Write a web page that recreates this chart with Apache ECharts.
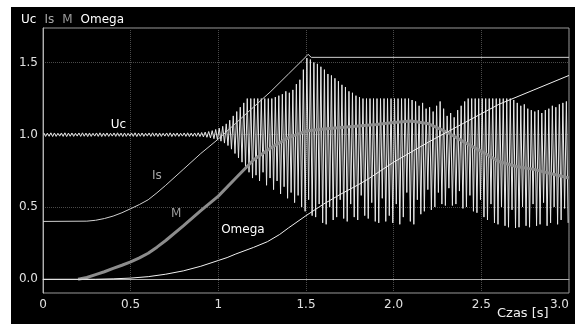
<!DOCTYPE html>
<html>
<head>
<meta charset="utf-8">
<script src="https://cdn.jsdelivr.net/npm/echarts@6/dist/echarts.min.js"></script>
<style>
  html, body { margin: 0; padding: 0; background: #fff; }
  .chart-panel { position: absolute; left: 11px; top: 7px; width: 564px; height: 317px; background: #000; }
</style>
</head>
<body>
<div id="chart" class="chart-panel"></div>
<script>
// Uc: one high and one low per 20 ms cycle
const UC_T0 = 0.005;
const UC_PERIOD = 0.02;
const ucHigh = [
  1.012, 1.011, 1.013, 1.012, 1.010, 1.012, 1.013, 1.011, 1.012, 1.010,
  1.012, 1.013, 1.011, 1.012, 1.010, 1.012, 1.013, 1.011, 1.012, 1.010,
  1.012, 1.013, 1.011, 1.012, 1.010, 1.012, 1.013, 1.011, 1.012, 1.010,
  1.012, 1.013, 1.011, 1.012, 1.010, 1.012, 1.013, 1.011, 1.012, 1.010,
  1.012, 1.013, 1.011, 1.012, 1.013,
  1.015, 1.018, 1.022, 1.028, 1.036, 1.045, 1.058, 1.075, 1.10, 1.13,
  1.16, 1.19, 1.22, 1.25, 1.25, 1.25, 1.25, 1.25, 1.25, 1.25,
  1.25, 1.26, 1.27, 1.28, 1.30,
  1.29, 1.31, 1.35, 1.38, 1.45, 1.53, 1.52, 1.50, 1.49, 1.47,
  1.45, 1.42, 1.41, 1.39, 1.37, 1.345, 1.33, 1.30, 1.29, 1.27,
  1.26, 1.25, 1.25, 1.25, 1.25, 1.25, 1.25, 1.25, 1.25, 1.25,
  1.25, 1.25, 1.25, 1.25, 1.25, 1.24, 1.23, 1.20, 1.22, 1.18,
  1.19, 1.16, 1.20, 1.23, 1.18, 1.13, 1.15, 1.12, 1.17, 1.20,
  1.23, 1.25, 1.25, 1.25, 1.25, 1.25, 1.25, 1.25, 1.25, 1.25,
  1.25, 1.25, 1.25, 1.25, 1.24, 1.22, 1.20, 1.21, 1.18, 1.17,
  1.16, 1.17, 1.15, 1.17, 1.18, 1.20, 1.19, 1.21, 1.22, 1.23,
];
const ucLow = [
  0.988, 0.989, 0.987, 0.988, 0.990, 0.988, 0.987, 0.989, 0.988, 0.990,
  0.988, 0.989, 0.987, 0.988, 0.990, 0.988, 0.987, 0.989, 0.988, 0.990,
  0.988, 0.989, 0.987, 0.988, 0.990, 0.988, 0.987, 0.989, 0.988, 0.990,
  0.988, 0.989, 0.987, 0.988, 0.990, 0.988, 0.987, 0.989, 0.988, 0.990,
  0.988, 0.987, 0.989, 0.988, 0.987,
  0.985, 0.982, 0.978, 0.972, 0.964, 0.955, 0.942, 0.925, 0.90, 0.87,
  0.84, 0.81, 0.78, 0.74, 0.70, 0.72, 0.68, 0.74, 0.65, 0.70,
  0.62, 0.68, 0.59, 0.64, 0.56,
  0.60, 0.53, 0.58, 0.50, 0.47, 0.55, 0.44, 0.43, 0.52, 0.39,
  0.38, 0.50, 0.41, 0.43, 0.55, 0.42, 0.40, 0.52, 0.43, 0.41,
  0.58, 0.44, 0.42, 0.53, 0.40, 0.39, 0.56, 0.40, 0.44, 0.39,
  0.52, 0.38, 0.43, 0.60, 0.40, 0.38, 0.55, 0.45, 0.47, 0.62,
  0.48, 0.50, 0.60, 0.52, 0.51, 0.63, 0.51, 0.52, 0.61, 0.49,
  0.50, 0.58, 0.47, 0.46, 0.55, 0.43, 0.41, 0.52, 0.39, 0.38,
  0.50, 0.37, 0.36, 0.48, 0.355, 0.36, 0.50, 0.37, 0.36, 0.52,
  0.37, 0.38, 0.53, 0.37, 0.39, 0.50, 0.38, 0.41, 0.49, 0.39,
];

const isTime = [0, 0.25, 0.3, 0.35, 0.4, 0.45, 0.5, 0.55, 0.6, 0.65, 0.7, 0.8, 0.9, 1.0, 1.1, 1.2, 1.3, 1.4, 1.5, 1.512, 1.53, 3.0];
const isValue = [0.4, 0.402, 0.408, 0.42, 0.437, 0.46, 0.488, 0.517, 0.55, 0.598, 0.65, 0.76, 0.87, 0.97, 1.08, 1.19, 1.3, 1.42, 1.54, 1.556, 1.535, 1.535];

const mTime = [0.2, 0.25, 0.3, 0.35, 0.4, 0.45, 0.5, 0.55, 0.6, 0.65, 0.7, 0.8, 0.9, 1.0, 1.1, 1.16, 1.2, 1.3, 1.4, 1.5, 1.6, 1.7, 1.8, 1.9, 2.0, 2.1, 2.2, 2.3, 2.4, 2.5, 2.6, 2.7, 2.8, 2.9, 3.0];
const mValue = [0, 0.012, 0.032, 0.052, 0.075, 0.097, 0.12, 0.148, 0.18, 0.222, 0.268, 0.37, 0.475, 0.575, 0.7, 0.775, 0.825, 0.91, 0.98, 1.025, 1.04, 1.05, 1.06, 1.07, 1.085, 1.095, 1.075, 1.02, 0.95, 0.885, 0.815, 0.78, 0.76, 0.73, 0.70];

const omegaTime = [0, 0.3, 0.4, 0.5, 0.6, 0.7, 0.8, 0.9, 1.0, 1.05, 1.1, 1.2, 1.28, 1.35, 1.4, 1.5, 1.6, 1.7, 1.8, 1.85, 2.0, 2.2, 2.4, 2.6, 2.8, 3.0];
const omegaValue = [0, 0, 0.003, 0.008, 0.018, 0.035, 0.058, 0.09, 0.13, 0.15, 0.175, 0.22, 0.26, 0.31, 0.355, 0.44, 0.52, 0.59, 0.655, 0.69, 0.81, 0.95, 1.08, 1.21, 1.31, 1.41];

const xTickLabels = ['0', '0.5', '1', '1.5', '2.0', '2.5', '3.0'];
const yTickLabels = ['0.0', '0.5', '1.0', '1.5'];

const FONT = 'DejaVu Sans';

const pairs = (xs, ys) => xs.map((x, i) => [x, ys[i]]);

const ucData = () => {
  const out = [];
  ucHigh.forEach((h, k) => {
    const t = UC_T0 + k * UC_PERIOD;
    out.push([t, h]);
    out.push([t + UC_PERIOD / 2, ucLow[k]]);
  });
  return out;
};

const seriesLabel = (coord, text, color) => ({
  symbol: 'circle',
  symbolSize: 0,
  silent: true,
  label: { show: true, position: 'inside', formatter: text, color, fontFamily: FONT, fontSize: 12 },
  data: [{ coord }],
});

const buildOption = () => ({
  backgroundColor: '#000',
  animation: false,
  legend: {
    left: 0,
    top: 2,
    icon: 'none',
    itemWidth: 0,
    itemHeight: 10,
    itemGap: 3,
    textStyle: { fontFamily: FONT, fontSize: 12 },
    data: [
      { name: 'Uc', textStyle: { color: '#ffffff' } },
      { name: 'Is', textStyle: { color: '#a8a8a8' } },
      { name: 'M', textStyle: { color: '#9a9a9a' } },
      { name: 'Omega', textStyle: { color: '#ffffff' } },
    ],
  },
  grid: {
    left: 32,
    right: 6,
    top: 21,
    bottom: 31,
    show: true,
    borderColor: '#9a9a9a',
    borderWidth: 1,
  },
  xAxis: {
    type: 'value',
    min: 0,
    max: 3,
    interval: 0.5,
    axisLine: { lineStyle: { color: '#b0b0b0' } },
    axisTick: { show: false },
    axisLabel: {
      color: '#e0e0e0',
      fontFamily: FONT,
      fontSize: 12,
      margin: 6,
      alignMaxLabel: 'right',
      formatter: (v) => xTickLabels[Math.round(v / 0.5)],
    },
    splitLine: { lineStyle: { color: '#4a4a4a', type: 'dotted' } },
  },
  yAxis: {
    type: 'value',
    min: -0.095,
    max: 1.738,
    splitNumber: 4,
    axisLine: { show: true, lineStyle: { color: '#b0b0b0' } },
    axisTick: { show: false },
    axisLabel: {
      color: '#e0e0e0',
      fontFamily: FONT,
      fontSize: 12,
      margin: 5,
      showMinLabel: false,
      showMaxLabel: false,
      formatter: (v) => {
        const i = Math.round(v / 0.5);
        return Math.abs(v - i * 0.5) < 1e-6 ? yTickLabels[i] || '' : '';
      },
    },
    splitLine: { lineStyle: { color: '#4a4a4a', type: 'dotted' } },
  },
  graphic: [
    {
      type: 'text',
      left: 486,
      top: 300,
      style: { text: 'Czas [s]', fill: '#f0f0f0', font: '13px "DejaVu Sans"' },
    },
  ],
  series: [
    {
      name: 'Uc',
      type: 'line',
      data: ucData(),
      showSymbol: false,
      color: '#ffffff',
      lineStyle: { color: '#e8e8e8', width: 1 },
      markPoint: seriesLabel([0.43, 1.067], 'Uc', '#ffffff'),
      z: 2,
    },
    {
      name: 'M',
      type: 'line',
      data: pairs(mTime, mValue),
      showSymbol: false,
      color: '#9a9a9a',
      lineStyle: { color: '#8c8c8c', width: 3 },
      markPoint: seriesLabel([0.76, 0.45], 'M', '#9a9a9a'),
      z: 3,
    },
    {
      name: 'Is',
      type: 'line',
      data: pairs(isTime, isValue),
      showSymbol: false,
      color: '#a8a8a8',
      lineStyle: { color: '#d0d0d0', width: 1 },
      markPoint: seriesLabel([0.65, 0.714], 'Is', '#a8a8a8'),
      z: 4,
    },
    {
      name: 'Omega',
      type: 'line',
      data: pairs(omegaTime, omegaValue),
      showSymbol: false,
      color: '#ffffff',
      lineStyle: { color: '#f0f0f0', width: 1 },
      markPoint: seriesLabel([1.14, 0.34], 'Omega', '#ffffff'),
      z: 4,
    },
  ],
});

const chart = echarts.init(document.getElementById('chart'));
chart.setOption(buildOption());
</script>
</body>
</html>
